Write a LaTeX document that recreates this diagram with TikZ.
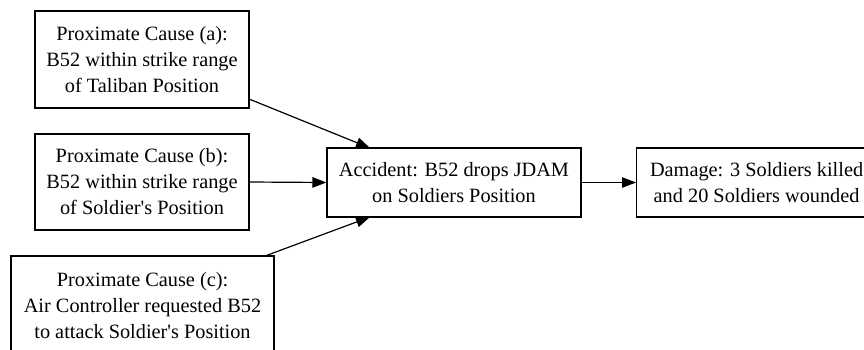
\documentclass[tikz,border=0pt]{standalone}
\usepackage{fontspec}
\setmainfont{Liberation Serif}
\usetikzlibrary{arrows.meta}
\begin{document}
\begin{tikzpicture}[x=1pt,y=-1pt,
  box/.style={draw, line width=1.2pt, rectangle, align=center, inner sep=0pt,
    font=\fontsize{20.3}{26}\selectfont},
  link/.style={line width=1.2pt, -{Triangle[length=14pt,width=10.5pt]}}]
\useasboundingbox (0,0) rectangle (864,349);
\clip (0,0) rectangle (864,349);
\node[box, minimum width=214pt, minimum height=97pt] (pa) at (142,59.5)
  {Proximate Cause (a):\\B52 within strike range\\of Taliban Position};
\node[box, minimum width=214pt, minimum height=96pt] (pb) at (142,182)
  {Proximate Cause (b):\\B52 within strike range\\of Soldier\textquotesingle s Position};
\node[box, minimum width=263pt, minimum height=100pt] (pc) at (142.5,306)
  {Proximate Cause (c):\\Air Controller requested B52\\to attack Soldier\textquotesingle s Position};
\node[box, minimum width=254pt, minimum height=69pt] (acc) at (454,182.5)
  {Accident: B52 drops JDAM\\on Soldiers Position};
\node[box, minimum width=240pt, minimum height=69pt, anchor=west] (dmg) at (636,182.5)
  {Damage: 3 Soldiers killed\\and 20 Soldiers wounded};
% edge end points on the box borders
\coordinate (aout) at (249,99);
\coordinate (ain) at (370,148);
\coordinate (cout) at (265,256);
\coordinate (cin) at (370,217);
\draw[link] (aout) -- (ain);
\draw[link] (pb.east) -- (acc.west);
\draw[link] (cout) -- (cin);
\draw[link] (acc.east) -- (dmg.west);
\end{tikzpicture}
\end{document}
